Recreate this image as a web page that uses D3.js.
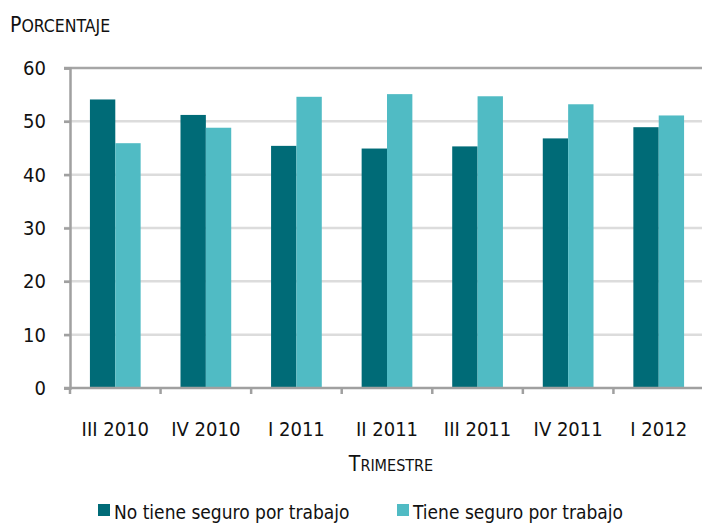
<!DOCTYPE html>
<html lang="es">
<head>
<meta charset="UTF-8">
<title>Seguro por trabajo</title>
<script src="https://cdn.jsdelivr.net/npm/d3@7"></script>
<style>
  body { margin: 0; background: #fff; }
  svg text { font-family: "DejaVu Sans Condensed", "DejaVu Sans", sans-serif; fill: #111; }
</style>
</head>
<body>
<svg id="chart" width="702" height="523"></svg>
<script>
// datos
var trimestres = ["III 2010", "IV 2010", "I 2011", "II 2011", "III 2011", "IV 2011", "I 2012"];
var noTiene = [54.1, 51.2, 45.4, 44.9, 45.3, 46.8, 48.9];
var tiene   = [45.9, 48.8, 54.6, 55.1, 54.7, 53.2, 51.1];
var series = ["No tiene seguro por trabajo", "Tiene seguro por trabajo"];
var yTicks = [0, 10, 20, 30, 40, 50, 60];

var colores = ["#006b77", "#50bbc4"];

var svg = d3.select("#chart"),
    mLeft = 70, mRight = 704, mTop = 68, mBottom = 388;

var x = d3.scaleBand().domain(trimestres).range([mLeft, mRight]).paddingInner(0.44).paddingOuter(0.22);
var xs = d3.scaleBand().domain([0, 1]).range([0, x.bandwidth()]);
var y = d3.scaleLinear().domain([0, 60]).range([mBottom, mTop]);

// lineas de cuadricula
svg.append("g").selectAll("line").data(yTicks.filter(function(d){ return d > 0; }))
  .enter().append("line")
  .attr("x1", mLeft - 6).attr("x2", 702)
  .attr("y1", function(d){ return y(d); }).attr("y2", function(d){ return y(d); })
  .attr("stroke", function(d){ return d == 60 ? "#a6a6a6" : "#dcdcdc"; })
  .attr("stroke-width", 2.5);

// barras
var datos = trimestres.map(function(t, i){ return {t: t, v: [noTiene[i], tiene[i]]}; });
var grupos = svg.append("g").selectAll("g").data(datos).enter().append("g")
  .attr("transform", function(d){ return "translate(" + x(d.t) + ",0)"; });
grupos.selectAll("rect").data(function(d){ return d.v; }).enter().append("rect")
  .attr("x", function(d, i){ return xs(i); })
  .attr("width", xs.bandwidth())
  .attr("y", function(d){ return y(d); })
  .attr("height", function(d){ return mBottom - y(d); })
  .attr("fill", function(d, i){ return colores[i]; });

// eje y
var ejeY = svg.append("g").attr("transform", "translate(" + mLeft + ",0)")
  .call(d3.axisLeft(y).tickValues(yTicks).tickSize(6).tickPadding(18));
ejeY.select(".domain").attr("stroke", "#a0a0a0").attr("stroke-width", 2.5);
ejeY.selectAll(".tick line").attr("stroke", "#a0a0a0").attr("stroke-width", 2.5);
ejeY.selectAll("text").attr("font-size", 20).attr("font-family", "DejaVu Sans Condensed").attr("fill", "#111");

// eje x
var xTicks = d3.range(trimestres.length + 1).map(function(i){ return mLeft + i * x.step(); });
svg.append("line").attr("x1", mLeft - 6).attr("x2", 702).attr("y1", mBottom).attr("y2", mBottom)
  .attr("stroke", "#a0a0a0").attr("stroke-width", 2.5);
svg.append("g").selectAll("line").data(xTicks).enter().append("line")
  .attr("x1", function(d){ return d; }).attr("x2", function(d){ return d; })
  .attr("y1", mBottom).attr("y2", mBottom + 6)
  .attr("stroke", "#a0a0a0").attr("stroke-width", 2.5);
svg.append("g").selectAll("text").data(trimestres).enter().append("text")
  .attr("x", function(d){ return x(d) + x.bandwidth() / 2; })
  .attr("y", 436)
  .attr("text-anchor", "middle")
  .attr("font-size", 20)
  .text(function(d){ return d; });

// titulos en versalitas
function versalitas(sel, palabra, grande, chica){
  sel.append("tspan").attr("font-size", grande).text(palabra[0].toUpperCase());
  sel.append("tspan").attr("font-size", chica).text(palabra.slice(1).toUpperCase());
}
svg.append("text").attr("x", 10).attr("y", 32).call(versalitas, "Porcentaje", 21, 17.5);
svg.append("text").attr("x", 391).attr("y", 471).attr("text-anchor", "middle").call(versalitas, "Trimestre", 21, 16);

// leyenda
var leyX = [98, 397];
var ley = svg.append("g").selectAll("g").data(series).enter().append("g")
  .attr("transform", function(d, i){ return "translate(" + leyX[i] + ",504)"; });
ley.append("rect").attr("width", 12).attr("height", 12)
  .attr("fill", function(d, i){ return colores[i]; });
ley.append("text").attr("x", 16).attr("y", 15).attr("font-size", 19)
  .text(function(d){ return d; });
</script>
</body>
</html>
